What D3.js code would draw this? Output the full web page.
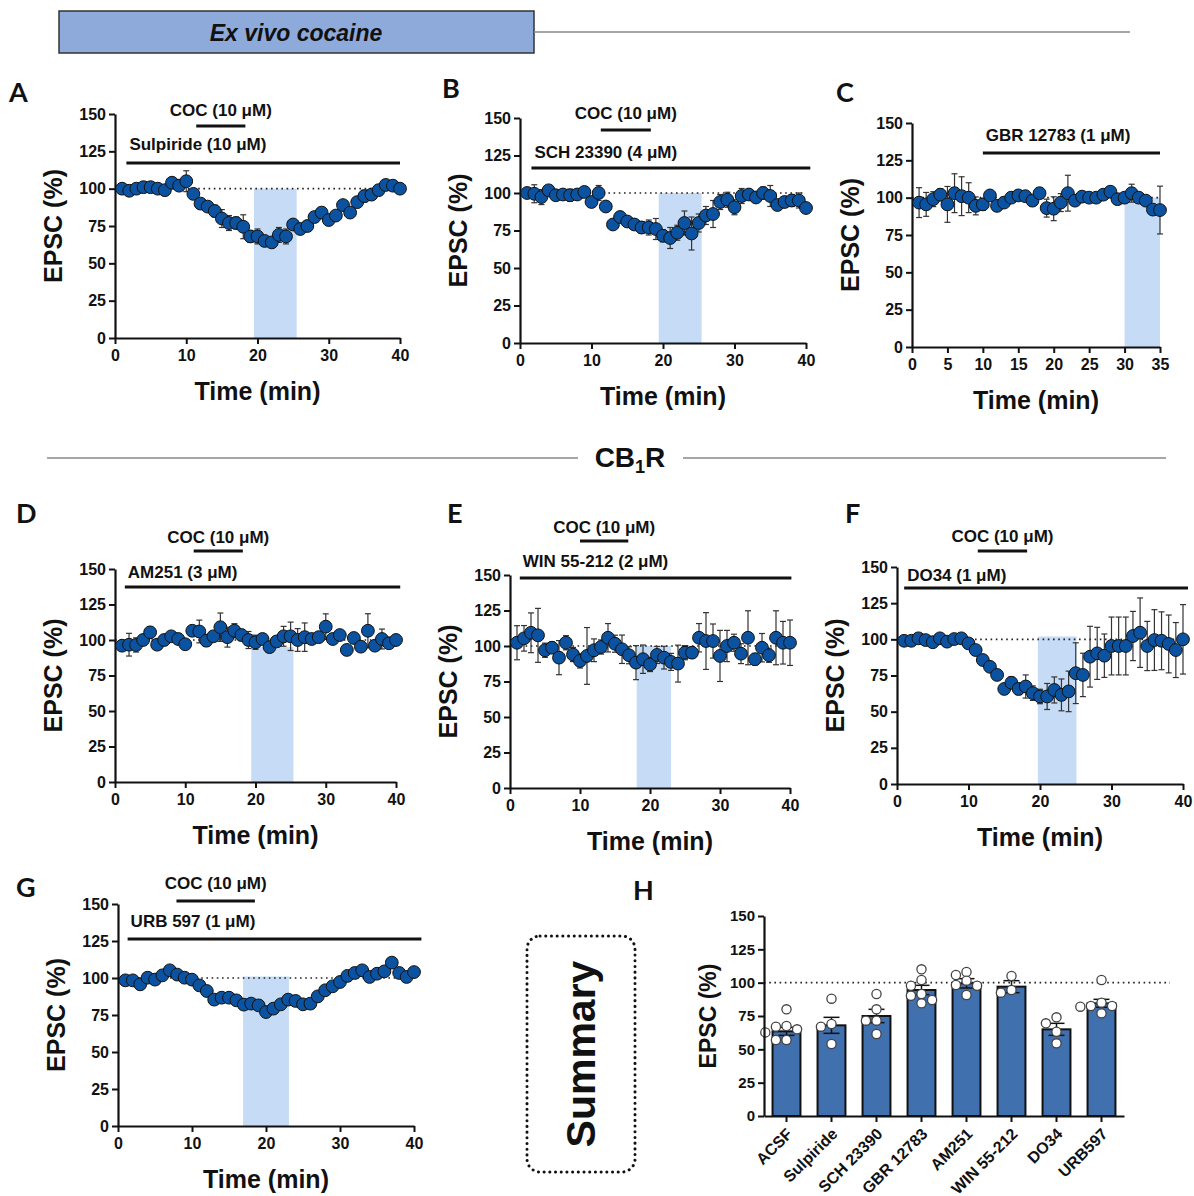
<!DOCTYPE html>
<html><head><meta charset="utf-8">
<title>Ex vivo cocaine - EPSC</title>
<script src="https://cdn.jsdelivr.net/npm/d3@7"></script>
<style>
  body { margin: 0; background: #fff; }
  svg text { font-family: "Liberation Sans", Arial, sans-serif; }
</style>
</head>
<body>
<svg id="fig" width="1194" height="1196"></svg>
<script>
// ---------- DATA ----------
const minutes40 = [1,2,3,4,5,6,7,8,9,10,11,12,13,14,15,16,17,18,19,20,21,22,23,24,25,26,27,28,29,30,31,32,33,34,35,36,37,38,39,40];
const minutes35 = [1,2,3,4,5,6,7,8,9,10,11,12,13,14,15,16,17,18,19,20,21,22,23,24,25,26,27,28,29,30,31,32,33,34,35];

// A - Sulpiride
const epscA = [100,98.6,100,101,101,100,99,104,102,105,96.5,90,88,85,80,77,77,74.5,68,68,65,64,69,68,76,73,75,81,84,79,82,89,84,91,95,96,99,102.5,102,100];
const semA  = [2,3,2,3,2,2,2,2,2,7,2,2,2,4,6,5,4,8,4,5,3,3,5,5,2,2,2,2,2,2,2,2,2,2,4,2,2,2,2,2];
// B - SCH 23390
const epscB = [100,99.5,97.3,101.8,98.5,99,98.5,99,100.7,94,100,91,79,84,81,79,77,77,76,71.5,70,73.5,80,73,80,85,86,94,95.5,90.5,98,99,97,100,98,92,94,95,95,90];
const semB  = [2,6,5,2,2,2,4,3,2,2,5,3,2,2,2,3,4,5,7,4,7,5,8,11,6,6,9,5,5,5,5,2,2,4,7,3,3,4,5,2];
// C - GBR 12783
const epscC = [96.7,95.5,99,102,95.5,103,101,100,94.5,95.5,101.5,94.5,96.7,100,101.5,101,98,103,93,92.6,96.7,103,98,100.7,100,100,102,104,99,100,103,100,98,92,91.7];
const semC  = [10,8,5,4,12,13,13,10,6,4,2,2,2,2,2,2,2,2,6,8,6,12,3,2,2,2,2,2,2,2,6,2,3,3,16];
// D - AM251
const epscD = [96,96.7,96.5,100,105.4,96.7,100,102.6,100.7,97,106.5,106,99.5,102.6,109,102,106.5,103.5,100,98.4,100.7,95,99,102.6,102.6,100,102,100.7,102,109.4,100.7,103.5,93,101.4,95.3,106.5,96,100.7,97.7,100];
const semD  = [2,8,5,2,4,2,2,2,2,2,2,8,4,2,10,7,5,4,6,5,2,2,2,7,10,8,10,2,2,9,2,2,2,2,2,12,2,7,2,2];
// E - WIN 55-212
const epscE = [102.3,105.4,109.3,107.5,97,98.8,91.8,102.3,94,89.5,93,97,99.3,105.8,101.6,97.7,93.5,88.3,90.7,87,93.7,91.8,88.8,87.6,95.3,95.3,105.8,103.5,103.5,93,100,102.3,94.6,105.8,90.7,98.8,93.5,105.8,102.3,102.3];
const semE  = [12,9,14,19,5,4,12,5,5,5,20,8,5,10,6,10,6,12,10,5,6,8,6,13,5,4,10,20,12,18,11,6,7,19,4,10,5,19,15,16];
// F - DO34
const epscF = [99,99,100.7,99.5,98,100.7,98.4,100.2,100.7,97.2,92.6,85.7,81,75.4,65.7,70,65.7,67.4,62.8,60.5,60.5,65,61.6,64,76.6,75.4,88,90.3,88.7,95.4,95.4,95.4,102.3,104.6,95.4,99.5,99,96.8,92.6,100];
const semF  = [2,2,2,2,2,2,2,2,2,2,3,3,3,3,3,4,4,8,5,5,9,9,11,14,21,15,21,18,15,20,20,20,17,24,17,21,20,20,19,24];
// G - URB 597
const epscG = [98.4,98.4,95.7,100.2,98.9,101.8,105.2,102.3,100.2,98.9,95,91.2,85.4,86.7,86.7,84.9,82,82.7,81.5,77,79.3,82.2,85.4,84.5,82.2,82.7,87.6,91.7,94.4,97.3,101.4,103.4,105.2,100.7,102.9,104.5,110.4,103.4,100.7,104];
const semG  = [2,2,2,2,2,2,2,2,2,2,2,2,2,2,2,2,2,2,2,2,2,2,2,2,3,3,2,2,2,2,2,2,2,2,2,2,2,2,2,2];

// drug application periods (min): [start, end]
const drugWindows = { A: [1.6, 40], B: [1.6, 40.6], C: [10, 35], D: [1.4, 40.6], E: [1.4, 40.2], F: [1, 40.7], G: [1.3, 41] };
const cocWindows  = { A: [11.4, 18.3], B: [11.3, 18.3], D: [11.2, 18.2], E: [10, 16.9], F: [11.3, 18.2], G: [7.9, 18.5] };
const analysisWindows = { A: [19.5, 25.5], B: [19.4, 25.4], C: [30, 35], D: [19.4, 25.4], E: [18.1, 23], F: [19.7, 25.1], G: [16.9, 23.1] };
const drugLabels = { A: "Sulpiride (10 \u03BCM)", B: "SCH 23390 (4 \u03BCM)", C: "GBR 12783 (1 \u03BCM)", D: "AM251 (3 \u03BCM)", E: "WIN 55-212 (2 \u03BCM)", F: "DO34 (1 \u03BCM)", G: "URB 597 (1 \u03BCM)" };
const cocLabel = "COC (10 \u03BCM)";

// H - summary
const groups    = ["ACSF", "Sulpiride", "SCH 23390", "GBR 12783", "AM251", "WIN 55-212", "DO34", "URB597"];
const groupMean = [63.5, 68, 75, 94.5, 99.5, 97, 65, 84.5];
const groupSem  = [3, 6, 5, 3.5, 3.5, 4.5, 4.5, 3];
const groupCells = [
  [80, 67.5, 67, 65, 62.7, 57, 57],
  [88, 69, 67, 54],
  [91.5, 80, 71.5, 71.5, 61.5],
  [110, 102, 97.7, 91.5, 90.2, 87, 84.5],
  [108, 105.7, 101.5, 98.2, 97.7, 90.7],
  [105, 94.5, 92.5],
  [74, 69.5, 63.2, 54.5],
  [102, 85, 82.5, 82.5, 82, 77]
];

// ---------- DRAWING ----------
const svg = d3.select("#fig");
svg.append("rect").attr("width", 1194).attr("height", 1196).attr("fill", "#fff");

const dotBlue = "#0b53a0";
const shadeBlue = "#c6dbf5";
const yTicks = [0, 25, 50, 75, 100, 125, 150];

function styleAxis(ax, fontSize) {
  ax.select(".domain").attr("stroke", "#111").attr("stroke-width", 2.2);
  ax.selectAll(".tick line").attr("stroke", "#111").attr("stroke-width", 2);
  ax.selectAll(".tick text").attr("fill", "#111").style("font-size", fontSize + "px")
    .style("font-weight", "bold").style("font-family", "'Liberation Sans', Arial, sans-serif");
}

function panelLetter(letter, x, y) {
  svg.append("text").attr("x", x).attr("y", y).text(letter)
     .style("font-family", "Lato, 'Open Sans', sans-serif").style("font-weight", "bold")
     .style("font-size", "27px").attr("fill", "#111");
}

function timeCourse(p) {
  const x = d3.scaleLinear().domain([0, p.xMax]).range([p.x0, p.x1]);
  const y = d3.scaleLinear().domain([0, 150]).range([p.y0, p.yTop]);
  const g = svg.append("g");

  // analysis window shading
  const win = analysisWindows[p.key];
  g.append("rect").attr("x", x(win[0])).attr("width", x(win[1]) - x(win[0]))
   .attr("y", y(p.shadeTop)).attr("height", y(0) - y(p.shadeTop)).attr("fill", shadeBlue);

  // dotted baseline at 100 %
  g.append("line").attr("x1", x(0)).attr("x2", x(p.xMax)).attr("y1", y(100)).attr("y2", y(100))
   .attr("stroke", "#222").attr("stroke-width", 1.6).attr("stroke-dasharray", "1.6,3.6");

  // axes
  const yAx = g.append("g").attr("transform", `translate(${p.x0},0)`)
    .call(d3.axisLeft(y).tickValues(yTicks).tickSize(6).tickSizeOuter(0).tickPadding(3));
  styleAxis(yAx, 16);
  const xAx = g.append("g").attr("transform", `translate(0,${p.y0})`)
    .call(d3.axisBottom(x).tickValues(p.xTicks).tickSize(6).tickSizeOuter(0).tickPadding(6));
  styleAxis(xAx, 16);

  // axis titles
  g.append("text").attr("transform", `translate(${p.x0 - 62},${(p.yTop + p.y0) / 2}) rotate(-90)`)
   .attr("text-anchor", "middle").attr("dominant-baseline", "central")
   .style("font-size", "25px").style("font-weight", "bold").attr("fill", "#111").text("EPSC (%)");
  g.append("text").attr("x", (p.x0 + p.x1) / 2).attr("y", p.y0 + 53)
   .attr("text-anchor", "middle").attr("dominant-baseline", "central")
   .style("font-size", "25px").style("font-weight", "bold").attr("fill", "#111").text("Time (min)");

  // drug bar + label
  const dw = drugWindows[p.key];
  g.append("line").attr("x1", x(dw[0])).attr("x2", x(dw[1]))
   .attr("y1", p.yTop + p.drugDy).attr("y2", p.yTop + p.drugDy)
   .attr("stroke", "#111").attr("stroke-width", 3);
  g.append("text").attr("x", x(dw[0]) + 3).attr("y", p.yTop + p.drugTextDy)
   .attr("dominant-baseline", "central").style("font-size", "17px").style("font-weight", "bold")
   .attr("fill", "#111").text(drugLabels[p.key]);

  // cocaine bar + label
  const cw = cocWindows[p.key];
  if (cw) {
    g.append("line").attr("x1", x(cw[0])).attr("x2", x(cw[1]))
     .attr("y1", p.yTop + p.cocDy).attr("y2", p.yTop + p.cocDy)
     .attr("stroke", "#111").attr("stroke-width", 3);
    g.append("text").attr("x", (x(cw[0]) + x(cw[1])) / 2).attr("y", p.yTop + p.cocTextDy)
     .attr("text-anchor", "middle").attr("dominant-baseline", "central")
     .style("font-size", "17px").style("font-weight", "bold").attr("fill", "#111").text(cocLabel);
  }

  // error bars
  const pts = p.times.map((t, i) => ({ t: t, v: p.values[i], s: p.sem[i] }));
  const eb = g.append("g").attr("stroke", "#333").attr("stroke-width", 1.2);
  pts.forEach(d => {
    const cx = x(d.t);
    eb.append("line").attr("x1", cx).attr("x2", cx).attr("y1", y(d.v - d.s)).attr("y2", y(d.v + d.s));
    eb.append("line").attr("x1", cx - 3).attr("x2", cx + 3).attr("y1", y(d.v - d.s)).attr("y2", y(d.v - d.s));
    eb.append("line").attr("x1", cx - 3).attr("x2", cx + 3).attr("y1", y(d.v + d.s)).attr("y2", y(d.v + d.s));
  });

  // points
  g.selectAll("circle.pt").data(pts).join("circle").attr("class", "pt")
   .attr("cx", d => x(d.t)).attr("cy", d => y(d.v)).attr("r", 6.4)
   .attr("fill", dotBlue).attr("stroke", "#111").attr("stroke-width", 1);
}

const tk40 = [0, 10, 20, 30, 40];
const tk35 = [0, 5, 10, 15, 20, 25, 30, 35];

timeCourse({ key: "A", times: minutes40, values: epscA, sem: semA, xMax: 40, xTicks: tk40,
  x0: 115, x1: 400, yTop: 114, y0: 338, shadeTop: 100, drugDy: 49, drugTextDy: 30, cocDy: 12, cocTextDy: -4 });
timeCourse({ key: "B", times: minutes40, values: epscB, sem: semB, xMax: 40, xTicks: tk40,
  x0: 520, x1: 806, yTop: 118, y0: 343, shadeTop: 100, drugDy: 50, drugTextDy: 34, cocDy: 12, cocTextDy: -5 });
timeCourse({ key: "C", times: minutes35, values: epscC, sem: semC, xMax: 35, xTicks: tk35,
  x0: 912, x1: 1160, yTop: 123, y0: 347, shadeTop: 100, drugDy: 30, drugTextDy: 12 });
timeCourse({ key: "D", times: minutes40, values: epscD, sem: semD, xMax: 40, xTicks: tk40,
  x0: 115, x1: 396, yTop: 569, y0: 782, shadeTop: 95, drugDy: 18, drugTextDy: 3, cocDy: -18, cocTextDy: -32 });
timeCourse({ key: "E", times: minutes40, values: epscE, sem: semE, xMax: 40, xTicks: tk40,
  x0: 510, x1: 790, yTop: 575, y0: 788, shadeTop: 100, drugDy: 3, drugTextDy: -14, cocDy: -34, cocTextDy: -48 });
timeCourse({ key: "F", times: minutes40, values: epscF, sem: semF, xMax: 40, xTicks: tk40,
  x0: 897, x1: 1183, yTop: 567, y0: 784, shadeTop: 102, drugDy: 21, drugTextDy: 8, cocDy: -16, cocTextDy: -31 });
timeCourse({ key: "G", times: minutes40, values: epscG, sem: semG, xMax: 40, xTicks: tk40,
  x0: 118, x1: 414, yTop: 904, y0: 1126, shadeTop: 101, drugDy: 35, drugTextDy: 17, cocDy: -3, cocTextDy: -21 });

// ---------- H: summary bars ----------
(function () {
  const x0 = 764, x1 = 1125, yTop = 916, y0 = 1116;
  const xb = d3.scaleBand().domain(groups).range([x0, x1 - 1]).paddingInner(0.38).paddingOuter(0.19);
  const yb = d3.scaleLinear().domain([0, 150]).range([y0, yTop]);
  const g = svg.append("g");

  g.append("line").attr("x1", x0).attr("x2", x1 + 45).attr("y1", yb(100)).attr("y2", yb(100))
   .attr("stroke", "#222").attr("stroke-width", 1.6).attr("stroke-dasharray", "1.6,3.6");

  g.selectAll("rect.bar").data(groups).join("rect").attr("class", "bar")
   .attr("x", d => xb(d)).attr("width", xb.bandwidth())
   .attr("y", (d, i) => yb(groupMean[i])).attr("height", (d, i) => y0 - yb(groupMean[i]))
   .attr("fill", "#4170ae").attr("stroke", "#111").attr("stroke-width", 2);

  // error bars (mean +/- sem)
  groups.forEach((d, i) => {
    const cx = xb(d) + xb.bandwidth() / 2;
    const lo = yb(groupMean[i] - groupSem[i]), hi = yb(groupMean[i] + groupSem[i]);
    g.append("line").attr("x1", cx).attr("x2", cx).attr("y1", lo).attr("y2", hi).attr("stroke", "#111").attr("stroke-width", 1.5);
    g.append("line").attr("x1", cx - 8).attr("x2", cx + 8).attr("y1", hi).attr("y2", hi).attr("stroke", "#111").attr("stroke-width", 1.5);
    g.append("line").attr("x1", cx - 8).attr("x2", cx + 8).attr("y1", lo).attr("y2", lo).attr("stroke", "#111").attr("stroke-width", 1.5);
  });

  // individual cells, simple beeswarm around the bar centre
  const r = 4.6;
  groups.forEach((d, i) => {
    const cx = xb(d) + xb.bandwidth() / 2;
    const placed = [];
    groupCells[i].slice().sort((a, b) => b - a).forEach(v => {
      const cy = yb(v);
      for (let k = 0; k < 30; k++) {
        const off = k === 0 ? 0 : (k % 2 ? -1 : 1) * Math.ceil(k / 2) * r * 1.15;
        const ok = placed.every(q => Math.hypot(q.x - (cx + off), q.y - cy) >= 2 * r * 0.9);
        if (ok) { placed.push({ x: cx + off, y: cy }); break; }
      }
    });
    g.selectAll(null).data(placed).join("circle")
     .attr("cx", q => q.x).attr("cy", q => q.y).attr("r", r)
     .attr("fill", "#fff").attr("stroke", "#444").attr("stroke-width", 1.3);
  });

  const yAx = g.append("g").attr("transform", `translate(${x0},0)`)
    .call(d3.axisLeft(yb).tickValues(yTicks).tickSize(6).tickSizeOuter(0).tickPadding(3));
  styleAxis(yAx, 15);
  const xAx = g.append("g").attr("transform", `translate(0,${y0})`)
    .call(d3.axisBottom(xb).tickSize(6).tickSizeOuter(0));
  styleAxis(xAx, 16);
  xAx.selectAll(".tick text").attr("text-anchor", "end").attr("dy", "0.35em")
     .attr("transform", "translate(3,15) rotate(-45)").attr("y", 0).attr("x", 0);

  g.append("text").attr("transform", `translate(708,${(yTop + y0) / 2}) rotate(-90)`)
   .attr("text-anchor", "middle").attr("dominant-baseline", "central")
   .style("font-size", "23px").style("font-weight", "bold").attr("fill", "#111").text("EPSC (%)");
})();

// ---------- headers, separators, letters ----------
svg.append("rect").attr("x", 59).attr("y", 11).attr("width", 475).attr("height", 42)
   .attr("fill", "#8eaadb").attr("stroke", "#333").attr("stroke-width", 1.5);
svg.append("text").attr("x", 296).attr("y", 33).attr("text-anchor", "middle").attr("dominant-baseline", "central")
   .style("font-size", "23px").style("font-weight", "bold").style("font-style", "italic").attr("fill", "#111")
   .text("Ex vivo cocaine");
svg.append("line").attr("x1", 534).attr("x2", 1130).attr("y1", 32).attr("y2", 32).attr("stroke", "#888").attr("stroke-width", 1.5);

svg.append("line").attr("x1", 47).attr("x2", 578).attr("y1", 458).attr("y2", 458).attr("stroke", "#888").attr("stroke-width", 1.5);
svg.append("line").attr("x1", 683).attr("x2", 1166).attr("y1", 458).attr("y2", 458).attr("stroke", "#888").attr("stroke-width", 1.5);
const cb = svg.append("text").attr("x", 630).attr("y", 467).attr("text-anchor", "middle")
   .style("font-size", "28px").style("font-weight", "bold").attr("fill", "#111");
cb.append("tspan").text("CB");
cb.append("tspan").attr("dy", 6).style("font-size", "18px").text("1");
cb.append("tspan").attr("dy", -6).text("R");

// summary box
svg.append("rect").attr("x", 527).attr("y", 936).attr("width", 108).attr("height", 236).attr("rx", 13)
   .attr("fill", "none").attr("stroke", "#111").attr("stroke-width", 3)
   .attr("stroke-linecap", "round").attr("stroke-dasharray", "0.1,5.6");
svg.append("text").attr("transform", "translate(595,1054) rotate(-90)").attr("text-anchor", "middle")
   .style("font-size", "41px").style("font-weight", "bold").attr("fill", "#111").text("Summary");

panelLetter("A", 9, 102);
panelLetter("B", 442, 98);
panelLetter("C", 836, 102);
panelLetter("D", 16, 523);
panelLetter("E", 447, 523);
panelLetter("F", 845, 523);
panelLetter("G", 16, 897);
panelLetter("H", 633, 900);
</script>
</body>
</html>
